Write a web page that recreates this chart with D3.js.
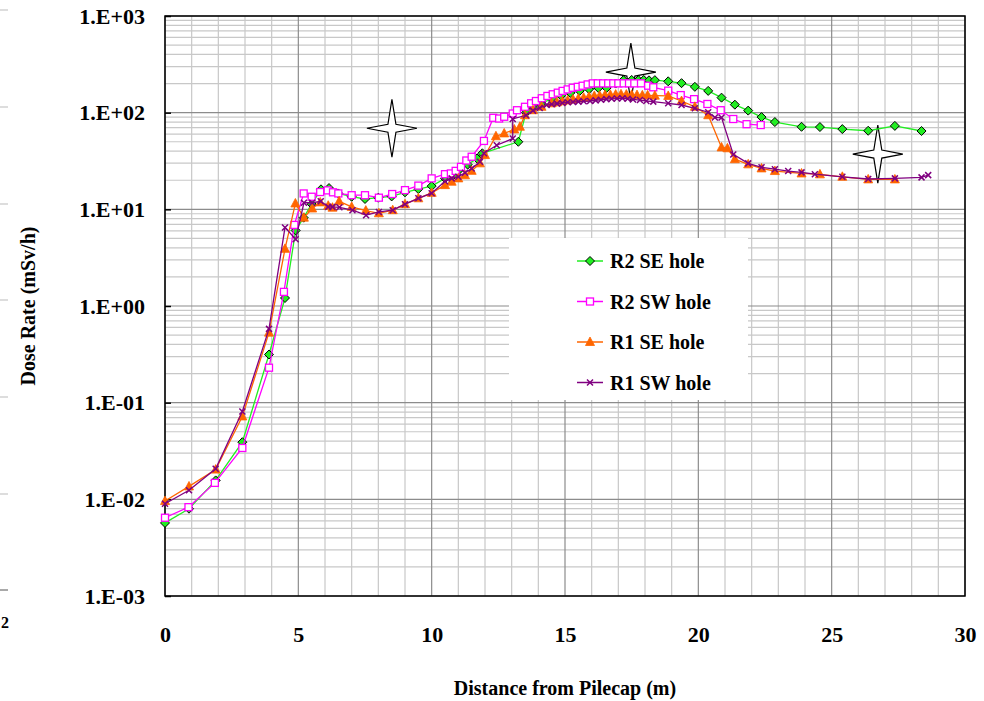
<!DOCTYPE html>
<html>
<head>
<meta charset="utf-8">
<script src="https://cdn.jsdelivr.net/npm/d3@7"></script>
<style>
  body { margin: 0; background: #fff; }
  text { font-family: "Liberation Serif", "Times New Roman", serif; font-weight: bold; }
</style>
</head>
<body>
<div id="chart-area"></div>
<script>
// distance (m), dose rate (mSv/h)
var r2SE = [[0,0.0057],[0.9,0.0080],[1.9,0.0157],[2.9,0.039],[3.9,0.315],[4.5,1.21],[4.9,6.05],[5.2,8.2],[5.5,11.3],[5.85,16.1],[6.15,16.6],[6.5,14.6],[7.0,13.5],[7.5,12.8],[8.0,13.2],[8.5,13.6],[9.0,15],[9.5,16.2],[10.0,17.4],[10.5,20.9],[10.8,22.4],[11.05,25.9],[11.35,29],[11.7,33.6],[11.9,38],[13.25,50],[13.54,100],[13.8,112],[14.12,125],[14.5,140],[14.85,150],[15.2,160],[15.55,168],[15.9,175],[16.25,180],[16.56,180],[16.9,200],[17.19,217],[17.5,218],[17.75,217],[17.95,218],[18.15,216],[18.37,217],[18.87,211],[19.37,202],[19.87,185],[20.37,168],[20.87,143],[21.37,121],[21.87,105],[22.37,90],[22.87,80],[23.87,71.4],[24.56,71],[25.4,67.6],[26.37,65],[27.37,73],[28.37,64.6]];
var r2SW = [[0,0.00645],[0.88,0.0083],[1.87,0.0148],[2.9,0.034],[3.9,0.23],[4.46,1.4],[4.85,6.9],[5.2,14.6],[5.5,13.5],[5.82,15.1],[6.1,15.7],[6.3,15],[6.5,14.6],[7.0,14],[7.5,14],[8.02,13.2],[8.52,14.4],[9.0,15.8],[9.5,17.6],[10.0,20.9],[10.5,23.1],[10.72,23.5],[10.9,25],[11.1,27.5],[11.3,32],[11.5,35],[11.96,51],[12.31,88.5],[12.53,87],[12.72,90.7],[13.04,98],[13.2,106],[13.5,115],[13.73,125],[13.91,132],[14.13,141],[14.34,149],[14.54,155],[14.73,161],[14.91,168],[15.1,174],[15.29,181],[15.48,185],[15.66,190],[15.85,196],[16.04,201],[16.23,201],[16.43,201],[16.62,201],[16.81,201],[17.0,201],[17.2,201],[17.4,201],[17.6,201],[17.85,201],[18.12,190],[18.31,183],[18.87,169],[19.34,152],[19.84,138],[20.34,123],[20.84,106],[21.31,86],[21.81,76],[22.34,74.5]];
var r1SE = [[0,0.0096],[0.9,0.0136],[1.9,0.0203],[2.9,0.072],[3.9,0.53],[4.5,3.9],[4.89,11.5],[5.21,8.2],[5.52,10.2],[5.82,11.8],[6.12,10.9],[6.28,10.4],[6.53,12.1],[7.0,10.6],[7.53,9.7],[8.02,9.1],[8.54,9.8],[9.0,11.3],[9.5,13],[10.0,14.8],[10.5,17.8],[10.75,19.3],[11.0,20.9],[11.25,22.5],[11.5,25],[11.81,29.9],[12.0,36.4],[12.41,57],[12.72,61],[13.1,67],[13.31,71.5],[13.5,94],[13.8,106],[14.12,115],[14.5,125],[14.7,128],[14.9,131],[15.1,134],[15.3,137],[15.5,140],[15.7,143],[15.9,146],[16.1,149],[16.3,150],[16.5,152],[16.7,153],[16.9,154],[17.1,155],[17.3,154],[17.5,153],[17.7,152],[17.9,151],[18.1,151],[18.37,150],[18.87,149],[19.37,132],[19.87,115],[20.37,94],[20.87,43.7],[21.09,42.8],[21.37,33],[21.87,29.2],[22.37,26.5],[22.87,24.9],[23.87,23.5],[24.56,23],[25.4,21.7],[26.37,20.4],[27.37,20.4]];
var r1SW = [[0,0.009],[0.9,0.0124],[1.9,0.0207],[2.9,0.081],[3.9,0.58],[4.5,6.5],[4.9,4.9],[5.21,11.7],[5.52,11.7],[5.84,12.1],[6.12,10.6],[6.28,10.6],[6.54,10.5],[7.03,9.8],[7.54,8.7],[8.02,9.4],[8.54,9.8],[9.0,11.3],[9.5,13],[10.0,14.7],[10.5,19.5],[10.75,20.9],[11.0,21.7],[11.25,23.9],[11.5,26.5],[11.81,31],[11.96,38],[12.44,46],[13.04,54],[13.04,86],[13.54,94],[13.8,105],[14.05,112],[14.31,120],[14.5,122],[14.7,124],[14.9,126],[15.1,128],[15.3,129],[15.5,130],[15.7,131],[15.94,132],[16.15,134],[16.35,136],[16.55,138],[16.75,139],[16.95,140],[17.15,141],[17.35,139],[17.55,137],[17.81,135],[18.05,132],[18.31,130],[18.87,125],[19.37,120],[19.87,111],[20.37,101],[20.62,89],[20.87,89],[21.31,37],[21.87,29.9],[22.37,27.2],[22.87,26],[23.37,24.9],[23.87,24.1],[24.37,23.1],[25.4,21.7],[26.37,20.6],[27.37,20.9],[28.37,21.4],[28.62,22.6]];

var seriesNames = ["R2 SE hole", "R2 SW hole", "R1 SE hole", "R1 SW hole"];
var seriesData = [r2SE, r2SW, r1SE, r1SW];
var seriesColors = ["#22ee22", "#ff00ff", "#ff6600", "#800080"];
var seriesMarkers = ["diamond", "square", "triangle", "cross"];

var xTicks = [0, 5, 10, 15, 20, 25, 30];
var yTicks = [1e-3, 1e-2, 1e-1, 1e0, 1e1, 1e2, 1e3];
var yTickLabels = ["1.E-03", "1.E-02", "1.E-01", "1.E+00", "1.E+01", "1.E+02", "1.E+03"];

// star annotations [x, y]
var stars = [[8.51, 69], [17.47, 263], [26.73, 37.3]];

var margin = { left: 165, right: 19, top: 16, bottom: 105 };
var width = 984 - margin.left - margin.right;
var height = 701 - margin.top - margin.bottom;

var svg = d3.select("#chart-area").append("svg")
    .attr("width", 984)
    .attr("height", 701);

// bits of a neighbouring chart cut off at the left edge
[10, 107, 204, 300, 397, 494, 590].forEach(function (yy, i) {
    svg.append("line")
        .attr("x1", 0).attr("x2", 8)
        .attr("y1", yy).attr("y2", yy)
        .attr("stroke", i == 6 ? "#555" : "#bbb")
        .attr("stroke-width", 1);
});
svg.append("text").attr("x", 1).attr("y", 628).attr("font-size", 16).text("2");

var g = svg.append("g")
    .attr("transform", `translate(${margin.left}, ${margin.top})`);

var x = d3.scaleLinear().domain([0, 30]).range([0, width]);
var y = d3.scaleLog().domain([1e-3, 1e3]).range([height, 0]);

// grid
var minorX = d3.range(0, 31).filter(function (d) { return d % 5 != 0; });
g.selectAll(".gx-minor").data(minorX).enter().append("line")
    .attr("x1", d => x(d)).attr("x2", d => x(d))
    .attr("y1", 0).attr("y2", height)
    .attr("stroke", "#c8c8c8").attr("stroke-width", 1.2);

var minorY = [];
yTicks.slice(0, -1).forEach(function (p) {
    for (var k = 2; k <= 9; k++) minorY.push(p * k);
});
g.selectAll(".gy-minor").data(minorY).enter().append("line")
    .attr("x1", 0).attr("x2", width)
    .attr("y1", d => y(d)).attr("y2", d => y(d))
    .attr("stroke", "#c8c8c8").attr("stroke-width", 1.2);

g.selectAll(".gx-major").data(xTicks).enter().append("line")
    .attr("x1", d => x(d)).attr("x2", d => x(d))
    .attr("y1", 0).attr("y2", height)
    .attr("stroke", "#8c8c8c").attr("stroke-width", 1.2);

g.selectAll(".gy-major").data(yTicks).enter().append("line")
    .attr("x1", 0).attr("x2", width)
    .attr("y1", d => y(d)).attr("y2", d => y(d))
    .attr("stroke", "#8c8c8c").attr("stroke-width", 1.2);

// stars
var starPath = "M0,-29 L4,-4 L25,0 L4,4 L0,29 L-4,4 L-25,0 L-4,-4 Z";
g.selectAll(".star").data(stars).enter().append("path")
    .attr("d", starPath)
    .attr("transform", d => `translate(${x(d[0])}, ${y(d[1])})`)
    .attr("fill", "#fff")
    .attr("stroke", "#000")
    .attr("stroke-width", 1.2);

// axes
var yAxisCall = d3.axisLeft(y)
    .tickValues(yTicks)
    .tickFormat((d, i) => yTickLabels[i])
    .tickSizeInner(-6)
    .tickSizeOuter(0)
    .tickPadding(20);
var yAxisGroup = g.append("g").attr("class", "y-axis").call(yAxisCall);
yAxisGroup.select(".domain").remove();
yAxisGroup.selectAll("line").attr("stroke", "#000").attr("stroke-width", 1.5);
yAxisGroup.selectAll("text")
    .attr("font-size", 22)
    .attr("font-family", "Liberation Serif, serif")
    .attr("font-weight", "bold")
    .attr("fill", "#000");

var xAxisCall = d3.axisBottom(x)
    .tickValues(xTicks)
    .tickSize(0)
    .tickPadding(30);
var xAxisGroup = g.append("g")
    .attr("class", "x-axis")
    .attr("transform", `translate(0, ${height})`)
    .call(xAxisCall);
xAxisGroup.select(".domain").remove();
xAxisGroup.selectAll("text")
    .attr("font-size", 22)
    .attr("font-family", "Liberation Serif, serif")
    .attr("font-weight", "bold")
    .attr("fill", "#000");

g.append("rect")
    .attr("width", width).attr("height", height)
    .attr("fill", "none").attr("stroke", "#000").attr("stroke-width", 1.5);

// legend box (covers the grid)
var legend = svg.append("g").attr("transform", "translate(509, 238)");
legend.append("rect").attr("width", 239).attr("height", 162).attr("fill", "#fff");

// markers
function drawMarker(sel, type, color) {
    if (type == "diamond") {
        sel.append("path").attr("d", "M0,-4.5 L4.5,0 L0,4.5 L-4.5,0 Z")
            .attr("fill", color).attr("stroke", "#000").attr("stroke-width", 1);
    } else if (type == "square") {
        sel.append("rect").attr("x", -3.5).attr("y", -3.5).attr("width", 7).attr("height", 7)
            .attr("fill", "#fff").attr("stroke", color).attr("stroke-width", 1.3);
    } else if (type == "triangle") {
        sel.append("path").attr("d", "M0,-5 L4.5,3.5 L-4.5,3.5 Z")
            .attr("fill", color).attr("stroke", color).attr("stroke-width", 0.8);
    } else {
        sel.append("path").attr("d", "M-3,-3 L3,3 M-3,3 L3,-3")
            .attr("fill", "none").attr("stroke", color).attr("stroke-width", 1.5);
    }
}

var line = d3.line().x(d => x(d[0])).y(d => y(d[1]));

seriesData.forEach(function (data, i) {
    var sg = g.append("g").attr("class", "series");
    sg.append("path")
        .datum(data)
        .attr("d", line)
        .attr("fill", "none")
        .attr("stroke", seriesColors[i])
        .attr("stroke-width", 1.3);
    sg.selectAll(".pt").data(data).enter().append("g")
        .attr("transform", d => `translate(${x(d[0])}, ${y(d[1])})`)
        .each(function () { drawMarker(d3.select(this), seriesMarkers[i], seriesColors[i]); });
});

seriesNames.forEach(function (name, i) {
    var ly = 23 + i * 40.5;
    var row = legend.append("g").attr("transform", `translate(0, ${ly})`);
    row.append("line").attr("x1", 68).attr("x2", 94).attr("y1", 0).attr("y2", 0)
        .attr("stroke", seriesColors[i]).attr("stroke-width", 1.5);
    drawMarker(row.append("g").attr("transform", "translate(81, 0)"), seriesMarkers[i], seriesColors[i]);
    row.append("text").attr("x", 101).attr("y", 7)
        .attr("font-size", 20).text(name);
});

// titles
svg.append("text")
    .attr("x", 565).attr("y", 695)
    .attr("text-anchor", "middle")
    .attr("font-size", 20)
    .text("Distance from Pilecap (m)");

svg.append("text")
    .attr("transform", "translate(35, 306) rotate(-90)")
    .attr("text-anchor", "middle")
    .attr("font-size", 20)
    .text("Dose Rate (mSv/h)");
</script>
</body>
</html>
